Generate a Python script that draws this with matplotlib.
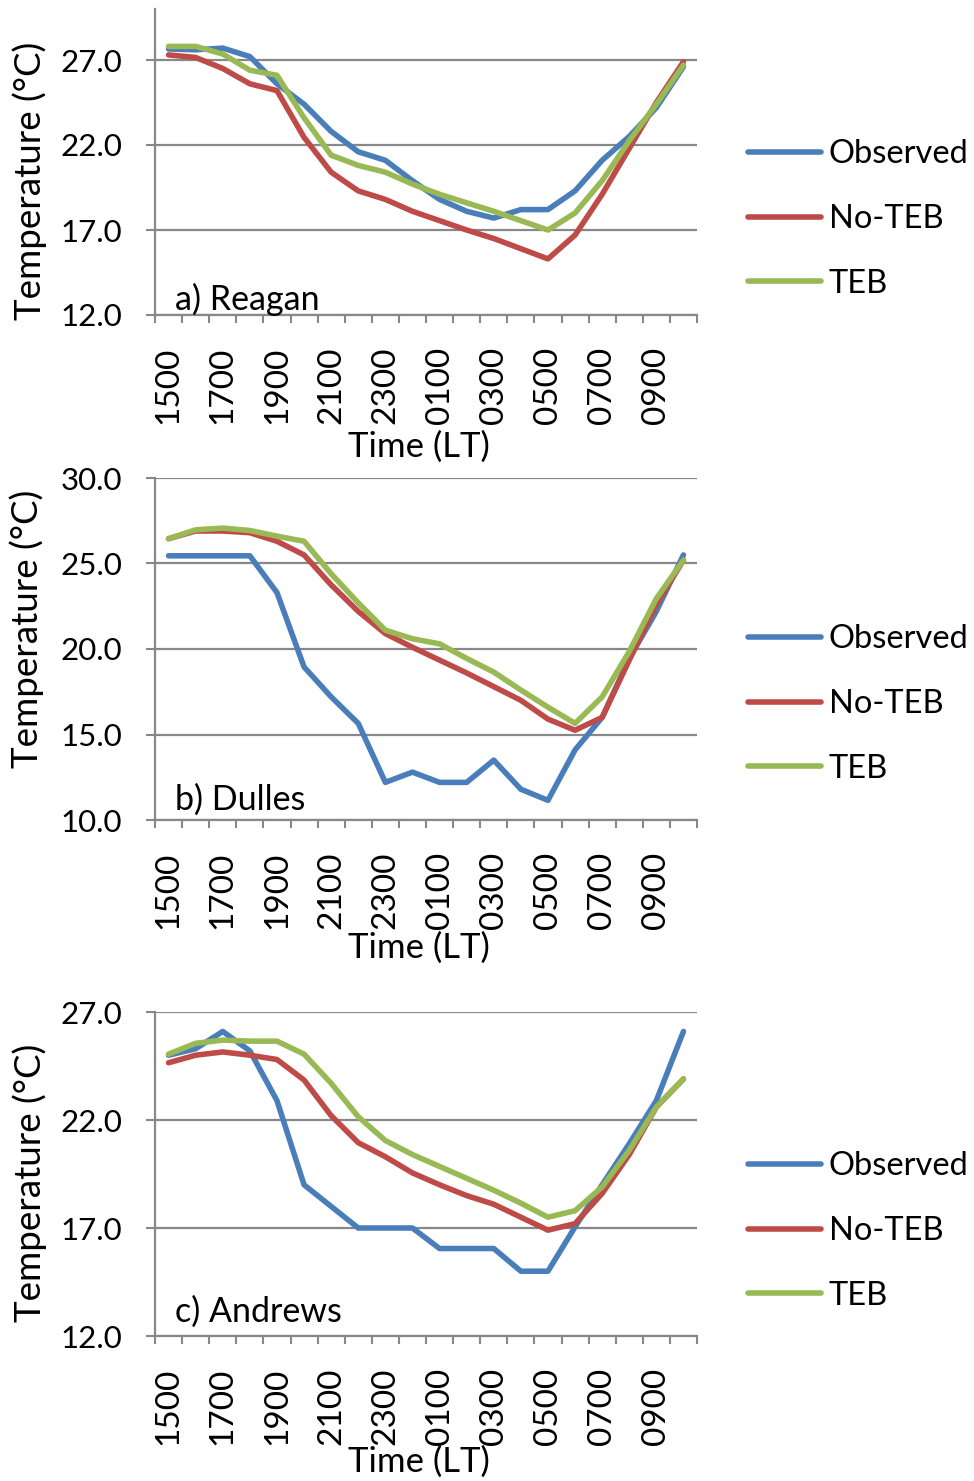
import numpy as np
import matplotlib
matplotlib.use("Agg")
import matplotlib.pyplot as plt

plt.rcParams['font.family'] = ['Lato', 'DejaVu Sans']

# hourly categories, 1500 LT through 1000 LT next day
hours = ['1500', '1600', '1700', '1800', '1900', '2000', '2100', '2200', '2300',
         '0000', '0100', '0200', '0300', '0400', '0500', '0600', '0700', '0800',
         '0900', '1000']

# a) Reagan
reagan_obs = [27.65, 27.6, 27.7, 27.2, 25.6, 24.4, 22.8, 21.6, 21.1, 19.9,
              18.8, 18.1, 17.7, 18.2, 18.2, 19.3, 21.1, 22.5, 24.2, 26.6]
reagan_noteb = [27.3, 27.15, 26.5, 25.6, 25.2, 22.45, 20.4, 19.3, 18.8, 18.1,
                17.55, 17.0, 16.5, 15.9, 15.3, 16.7, 19.1, 21.8, 24.5, 26.9]
reagan_teb = [27.8, 27.8, 27.35, 26.4, 26.1, 23.6, 21.4, 20.8, 20.4, 19.7,
              19.1, 18.6, 18.1, 17.55, 17.0, 18.0, 19.9, 22.25, 24.4, 26.7]

# b) Dulles
dulles_obs = [25.45, 25.45, 25.45, 25.45, 23.3, 18.95, 17.2, 15.65, 12.2, 12.8,
              12.2, 12.2, 13.5, 11.8, 11.15, 14.1, 16.0, 19.45, 22.2, 25.5]
dulles_noteb = [26.45, 26.9, 26.9, 26.8, 26.3, 25.5, 23.75, 22.2, 20.9, 20.1,
                19.35, 18.6, 17.8, 17.0, 15.9, 15.25, 16.0, 19.35, 22.6, 25.2]
dulles_teb = [26.45, 26.97, 27.07, 26.93, 26.6, 26.3, 24.4, 22.7, 21.1, 20.6,
              20.3, 19.45, 18.65, 17.6, 16.6, 15.65, 17.2, 19.85, 22.95, 25.2]

# c) Andrews
andrews_obs = [25.0, 25.3, 26.1, 25.2, 22.9, 19.0, 18.0, 17.0, 17.0, 17.0,
               16.05, 16.05, 16.05, 15.0, 15.0, 17.05, 19.0, 20.9, 22.9, 26.1]
andrews_noteb = [24.65, 25.0, 25.15, 25.0, 24.8, 23.85, 22.2, 20.95, 20.3, 19.55,
                 19.0, 18.5, 18.1, 17.5, 16.9, 17.2, 18.6, 20.4, 22.6, 23.9]
andrews_teb = [25.05, 25.55, 25.7, 25.65, 25.65, 25.05, 23.7, 22.15, 21.05, 20.4,
               19.85, 19.3, 18.75, 18.15, 17.5, 17.8, 18.9, 20.6, 22.6, 23.9]

panel_titles = ['a) Reagan', 'b) Dulles', 'c) Andrews']
series_names = ['Observed', 'No-TEB', 'TEB']
colors = ['#4A7EBB', '#BE4B48', '#98B954']

panels = [
    dict(data=[reagan_obs, reagan_noteb, reagan_teb], ylim=(12, 30),
         yticks=[12, 17, 22, 27], rect=[155, 9, 697, 315],
         ylab_y=181, ylab_x=30, xlab_y=447, title_base=310, leg_y=219),
    dict(data=[dulles_obs, dulles_noteb, dulles_teb], ylim=(10, 30),
         yticks=[10, 15, 20, 25, 30], rect=[155, 478, 697, 820],
         ylab_y=629, ylab_x=27, xlab_y=948, title_base=810, leg_y=704),
    dict(data=[andrews_obs, andrews_noteb, andrews_teb], ylim=(12, 27),
         yticks=[12, 17, 22, 27], rect=[155, 1012, 697, 1336],
         ylab_y=1183, ylab_x=30, xlab_y=1462, title_base=1322, leg_y=1231),
]

W, H = 974, 1481
fig = plt.figure(figsize=(W / 100, H / 100), dpi=100)
grey = '#888888'
x = np.arange(len(hours))

for p, title in zip(panels, panel_titles):
    l, t, r, b = p['rect']
    ax = fig.add_axes([l / W, 1 - b / H, (r - l) / W, (b - t) / H])

    for vals, name, c in zip(p['data'], series_names, colors):
        ax.plot(x, vals, color=c, lw=4.0, label=name,
                solid_capstyle='round', solid_joinstyle='round')

    ax.set_xlim(-0.5, len(hours) - 0.5)
    ax.set_ylim(*p['ylim'])
    ax.set_yticks(p['yticks'])
    ax.set_yticklabels([f'{v:.1f}' for v in p['yticks']], fontsize=22.5)
    ax.yaxis.grid(True, color=grey, lw=1.6)
    ax.set_axisbelow(True)

    # category labels every 2 h, tick marks on category boundaries
    ax.set_xticks(x[::2])
    ax.set_xticklabels(hours[::2], rotation=90, fontsize=24)
    ax.set_xticks(np.arange(-0.5, len(hours)), minor=True)
    ax.tick_params(axis='x', which='major', length=0, pad=23)
    ax.tick_params(axis='x', which='minor', length=6, width=1.5, color=grey)
    ax.tick_params(axis='y', length=6.5, width=1.5, color=grey, pad=17)

    for s in ['top', 'right']:
        ax.spines[s].set_visible(False)
    for s in ['left', 'bottom']:
        ax.spines[s].set_color(grey)
        ax.spines[s].set_linewidth(1.6)

    ax.set_ylabel('Temperature (°C)', fontsize=26.5)
    ax.yaxis.label.set_va('center')
    ax.yaxis.set_label_coords((p['ylab_x'] - l) / (r - l), (b - p['ylab_y']) / (b - t))
    ax.set_xlabel('Time (LT)', fontsize=25)
    ax.xaxis.label.set_va('center')
    ax.xaxis.set_label_coords((419 - l) / (r - l), (b - p['xlab_y']) / (b - t))

    ax.text((175 - l) / (r - l), (b - p['title_base']) / (b - t), title,
            transform=ax.transAxes, fontsize=24.5, va='baseline', ha='left')

    ax.legend(loc='center left', bbox_to_anchor=(748 / W, 1 - p['leg_y'] / H),
              bbox_transform=fig.transFigure, frameon=False, fontsize=23.5,
              handlelength=2.25, handletextpad=0.22, labelspacing=1.06,
              borderpad=0, borderaxespad=0)

fig.savefig('out.png', dpi=100)
